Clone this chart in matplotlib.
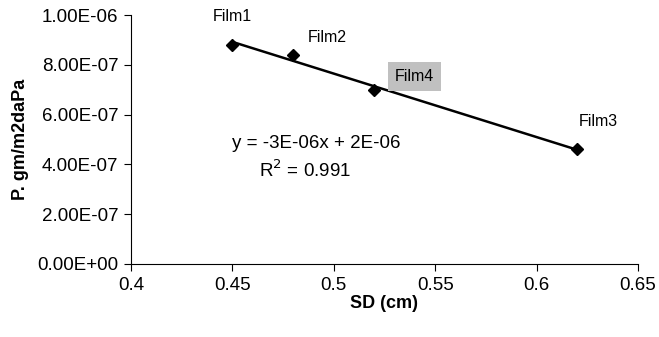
import numpy as np
import matplotlib
import matplotlib.pyplot as plt

matplotlib.use("Agg")

plt.rcParams["font.family"] = ["Liberation Sans", "DejaVu Sans"]

films = ["Film1", "Film2", "Film4", "Film3"]
sd = [0.45, 0.48, 0.52, 0.62]
perm = [8.8e-7, 8.4e-7, 7.0e-7, 4.6e-7]
# label offsets in pixels from each point
offsets = [(0, 28), (34, 17), (40, 13), (21, 28)]

W, H = 659, 337
fig = plt.figure(figsize=(W / 100, H / 100), dpi=100)
ax = fig.add_axes([131 / W, 1 - 264 / H, (638 - 131) / W, (264 - 15) / H])

ax.plot(sd, perm, linestyle="none", marker="D", markersize=6, color="black", zorder=3)

# linear trend line
slope, icept = np.polyfit(sd, perm, 1)
xs = np.array([min(sd), max(sd)])
ax.plot(xs, slope * xs + icept, color="black", linewidth=1.8)
r2 = np.corrcoef(sd, perm)[0, 1] ** 2

for name, x, y, off in zip(films, sd, perm, offsets):
    box = None
    if name == "Film4":
        box = dict(facecolor="#c0c0c0", edgecolor="none", pad=5)
    ax.annotate(name, (x, y), xytext=off, textcoords="offset pixels",
                ha="center", va="center", fontsize=11.5, bbox=box)

fig.text(316 / W, 1 - 143 / H, "y = -3E-06x + 2E-06", ha="center", va="center", fontsize=13.5)
fig.text(305 / W, 1 - 170 / H, f"R$^2$ = {r2:.3f}", ha="center", va="center", fontsize=13.5)

ax.set_xlim(0.4, 0.65)
ax.set_ylim(0, 1e-6)
ax.set_xticks(np.arange(0.4, 0.651, 0.05))
ax.set_xticklabels(["0.4", "0.45", "0.5", "0.55", "0.6", "0.65"])
ax.set_yticks(np.arange(0, 1.01e-6, 2e-7))
ax.set_yticklabels([f"{v:.2E}" for v in np.arange(0, 1.01e-6, 2e-7)])
ax.tick_params(labelsize=13.5, length=5, direction="out", pad=4)
ax.spines["top"].set_visible(False)
ax.spines["right"].set_visible(False)
ax.set_xlabel("SD (cm)", fontsize=13, fontweight="bold", labelpad=1)
ax.set_ylabel("P. gm/m2daPa", fontsize=13, fontweight="bold", labelpad=6)

fig.savefig("out.png", dpi=100)
